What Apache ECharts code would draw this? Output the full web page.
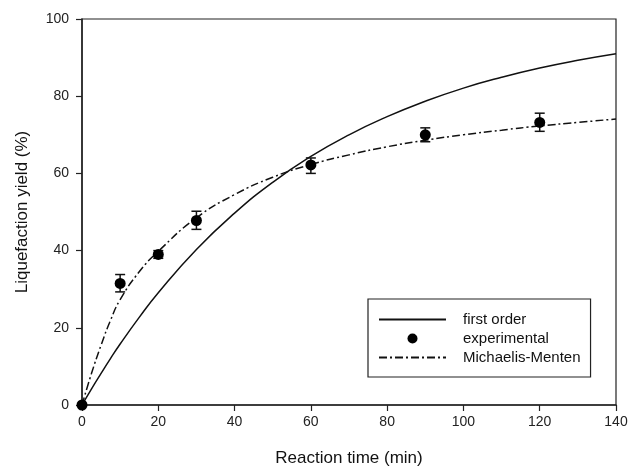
<!DOCTYPE html>
<html>
<head>
<meta charset="utf-8">
<script src="https://cdn.jsdelivr.net/npm/echarts@6/dist/echarts.min.js"></script>
<style>
  html, body { margin: 0; padding: 0; background: #fff; }
  #main { width: 630px; height: 467px; }
</style>
</head>
<body>
<div id="main"></div>
<script>
// model curves
var timeGrid = [0, 2.5, 5, 7.5, 10, 15, 20, 30, 40, 50, 60, 70, 80, 90, 100, 110, 120, 130, 140];
var firstOrder = [0, 4.2, 8.2, 12.1, 15.8, 22.7, 29.1, 40.3, 49.7, 57.7, 64.4, 70.0, 74.7, 78.7, 82.1, 84.9, 87.3, 89.3, 91.0];
var michaelis = [0, 8.2, 15.5, 22, 27.3, 34.5, 39.8, 48.5, 54.5, 59, 62.3, 64.8, 66.9, 68.6, 70, 71.2, 72.3, 73.2, 74.1];

// experimental points with error bars
var expTime = [0, 10, 20, 30, 60, 90, 120];
var expYield = [0, 31.5, 39, 47.8, 62.2, 70, 73.2];
var expLow = [0, 29.3, 38, 45.5, 60, 68.2, 70.9];
var expHigh = [0, 33.8, 40, 50.2, 64, 71.8, 75.6];

var xTicks = [0, 20, 40, 60, 80, 100, 120, 140];
var yTicks = [0, 20, 40, 60, 80, 100];

function pairs(xs, ys) {
    var out = [];
    for (var i = 0; i < xs.length; i++) out.push([xs[i], ys[i]]);
    return out;
}

var errData = [];
for (var i = 0; i < expTime.length; i++) {
    if (expHigh[i] > expLow[i]) errData.push([expTime[i], expLow[i], expHigh[i]]);
}

var myChart = echarts.init(document.getElementById('main'));
var font = 'Liberation Sans, Arial, sans-serif';
// hide the little circle echarts puts on line legend icons
var noDot = { color: 'rgba(0,0,0,0)', borderWidth: 0 };

option = {
    animation: false,
    backgroundColor: '#fff',
    grid: {
        left: 82, right: 14, top: 19, bottom: 62,
        outerBoundsMode: 'none',
        show: true, borderColor: '#222', borderWidth: 1.2
    },
    legend: {
        orient: 'vertical',
        left: 368, top: 299,
        padding: [13, 10, 12, 10],
        itemWidth: 67, itemHeight: 10, itemGap: 4,
        borderColor: '#222', borderWidth: 1.2,
        textStyle: { fontFamily: font, fontSize: 15, color: '#111', padding: [0, 0, 0, 12] },
        data: [
            { name: 'first order', itemStyle: noDot },
            { name: 'experimental' },
            { name: 'Michaelis-Menten', itemStyle: noDot }
        ]
    },
    xAxis: {
        type: 'value', min: 0, max: 140, interval: 20,
        name: 'Reaction time (min)', nameLocation: 'middle', nameGap: 45,
        nameTextStyle: { fontFamily: font, fontSize: 17, color: '#111' },
        axisLine: { lineStyle: { color: '#222', width: 1.5 } },
        axisTick: { length: 6, lineStyle: { color: '#222', width: 1.2 } },
        axisLabel: { fontFamily: font, fontSize: 14, color: '#222', margin: 10,
            formatter: function (v) { return xTicks.indexOf(v) >= 0 ? String(v) : ''; } },
        splitLine: { show: false }
    },
    yAxis: {
        type: 'value', min: 0, max: 100, interval: 20,
        name: 'Liquefaction yield (%)', nameLocation: 'middle', nameGap: 51,
        nameTextStyle: { fontFamily: font, fontSize: 17, color: '#111' },
        axisLine: { lineStyle: { color: '#222', width: 1.5 } },
        axisTick: { length: 6, lineStyle: { color: '#222', width: 1.2 } },
        axisLabel: { fontFamily: font, fontSize: 14, color: '#222', margin: 13,
            formatter: function (v) { return yTicks.indexOf(v) >= 0 ? String(v) : ''; } },
        splitLine: { show: false }
    },
    series: [
        {
            name: 'first order',
            type: 'line',
            data: pairs(timeGrid, firstOrder),
            smooth: true,
            symbol: 'none',
            lineStyle: { color: '#111', width: 1.5 },
            itemStyle: { color: '#111' },
            z: 3
        },
        {
            name: 'Michaelis-Menten',
            type: 'line',
            data: pairs(timeGrid, michaelis),
            smooth: true,
            symbol: 'none',
            lineStyle: { color: '#111', width: 1.5, type: [8, 3, 2, 3] },
            itemStyle: { color: '#111' },
            z: 3
        },
        {
            name: 'error',
            type: 'custom',
            data: errData,
            clip: false,
            z: 4,
            renderItem: function (params, api) {
                var x = api.value(0);
                var lo = api.coord([x, api.value(1)]);
                var hi = api.coord([x, api.value(2)]);
                var cap = 5;
                var st = { stroke: '#111', lineWidth: 1.5 };
                return {
                    type: 'group',
                    children: [
                        { type: 'line', shape: { x1: lo[0], y1: lo[1], x2: hi[0], y2: hi[1] }, style: st },
                        { type: 'line', shape: { x1: lo[0] - cap, y1: lo[1], x2: lo[0] + cap, y2: lo[1] }, style: st },
                        { type: 'line', shape: { x1: hi[0] - cap, y1: hi[1], x2: hi[0] + cap, y2: hi[1] }, style: st }
                    ]
                };
            }
        },
        {
            name: 'experimental',
            type: 'scatter',
            data: pairs(expTime, expYield),
            symbol: 'circle',
            symbolSize: 11,
            clip: false,
            itemStyle: { color: '#000', opacity: 1 },
            z: 5
        }
    ]
};
myChart.setOption(option);
</script>
</body>
</html>
